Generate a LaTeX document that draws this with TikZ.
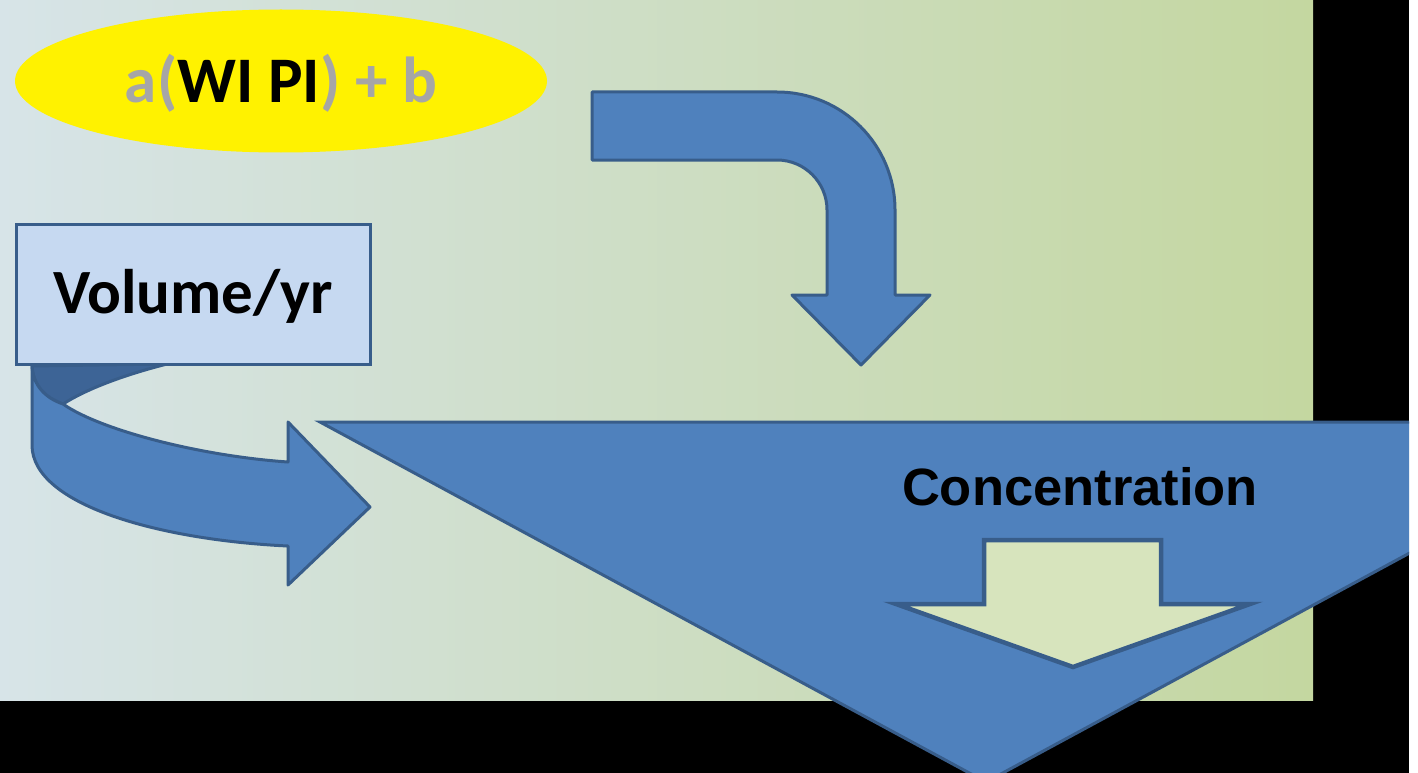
\documentclass[tikz,border=0pt]{standalone}
\usepackage{fontspec}
\setmainfont{Carlito}
\newfontfamily\arialfont{Liberation Sans}
\usetikzlibrary{shapes.geometric}
\definecolor{arrowfill}{HTML}{4F81BD}
\definecolor{arrowline}{HTML}{385D8A}
\definecolor{arrowback}{HTML}{3D6496}
\definecolor{bgleft}{RGB}{215,228,232}
\definecolor{bgright}{RGB}{196,215,160}
\definecolor{boxfill}{HTML}{C6D9F1}
\definecolor{greytext}{HTML}{A6A6A6}
\definecolor{innerfill}{HTML}{D7E4BD}
\begin{document}
\begin{tikzpicture}[x=1pt,y=-1pt,
  bigarrow/.style={fill=arrowfill,draw=arrowline,line width=3pt,line join=round},
  backpart/.style={fill=arrowback,draw=arrowline,line width=3pt,line join=round},
  labeltext/.style={anchor=base,inner sep=0pt,font=\fontsize{63}{76}\selectfont\bfseries},
  formulatext/.style={anchor=base,inner sep=0pt,font=\fontsize{65}{78}\selectfont\bfseries},
  conctext/.style={anchor=base,inner sep=0pt,font=\arialfont\fontsize{52.5}{63}\selectfont\bfseries}]
\useasboundingbox (0,0) rectangle (1418,773);
\fill[white] (0,0) rectangle (1418,773);
\fill[black] (0,0) rectangle (1409,773);
\shade[left color=bgleft,right color=bgright] (0,0) rectangle (1313,700);

% formula ellipse
\node[ellipse,fill=yellow,minimum width=532pt,minimum height=143pt,inner sep=0pt] (formula) at (281,81) {};
\node[formulatext] (formulalabel) at (281,103) {\textcolor{greytext}{a(}WI PI\textcolor{greytext}{) + b}};

% bent arrow (top right)
\draw[bigarrow] (592,92) -- (777,92) .. controls (842.2,92) and (895,144.8) .. (895,210)
  -- (895,295) -- (930,295) -- (861,365) -- (792,295) -- (827,295) -- (827,210)
  .. controls (827,182.4) and (804.6,160) .. (777,160) -- (592,160) -- cycle;

% curved arrow below the box
\draw[backpart] (32,366) -- (167,364) .. controls (120,376) and (85,390) .. (63,404)
  .. controls (45,398) and (33,385) .. (32,366) -- cycle;
\draw[bigarrow] (32,366) -- (32,445) .. controls (32,505) and (160,540) .. (288,546)
  -- (288,585) -- (370,507) -- (288,422) -- (288,462)
  .. controls (200,456) and (100,430) .. (63,404)
  .. controls (45,398) and (33,385) .. (32,366) -- cycle;

% volume box
\node[draw=arrowline,fill=boxfill,line width=3pt,minimum width=354pt,minimum height=140pt,inner sep=0pt] (volbox) at (193,294) {};
\node[labeltext] (vollabel) at (193,313) {Volume/yr};

% big triangle
\begin{scope}
\clip (0,0) rectangle (1409,773);
\draw[bigarrow,line join=miter] (320,422) -- (1652,422) -- (986,782) -- cycle;
\end{scope}
\node[conctext] (conclabel) at (1080,505) {Concentration};

% inner down arrow
\draw[fill=innerfill,draw=arrowline,line width=4.5pt,line join=miter]
  (984,540) -- (1161,540) -- (1161,604) -- (1250,604) -- (1073,667) -- (896,604) -- (984,604) -- cycle;
\end{tikzpicture}
\end{document}
